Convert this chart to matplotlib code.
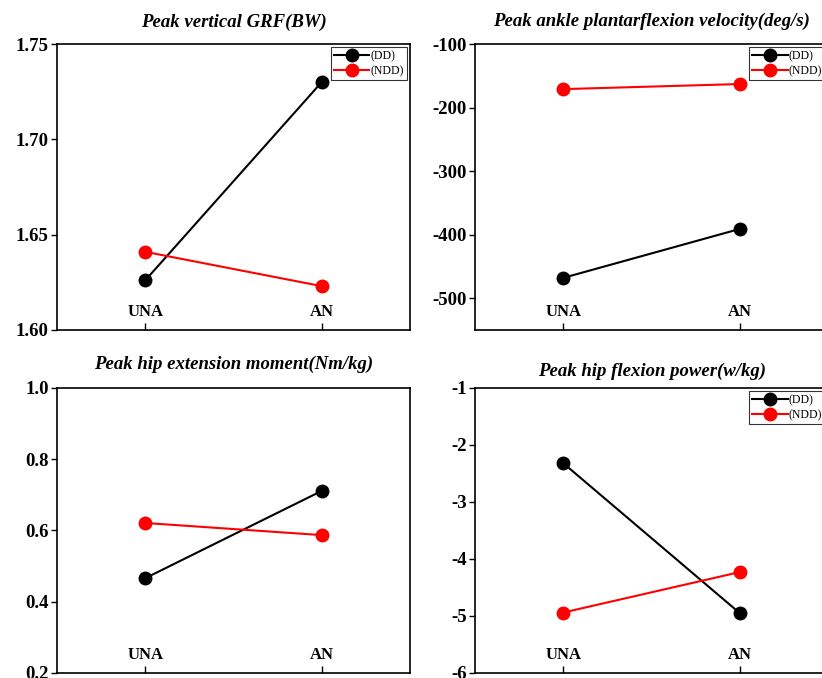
import matplotlib
matplotlib.use('Agg')
import matplotlib.pyplot as plt
import matplotlib.transforms as mtransforms

plt.rcParams['font.family'] = ['Liberation Serif', 'DejaVu Serif']
plt.rcParams['font.weight'] = 'bold'

# conditions on the x axis
conditions = ['UNA', 'AN']

# one entry per panel
titles = ['Peak vertical GRF(BW)',
          'Peak ankle plantarflexion velocity(deg/s)',
          'Peak hip extension moment(Nm/kg)',
          'Peak hip flexion power(w/kg)']

grf_dd = [1.626, 1.730]
grf_ndd = [1.641, 1.623]

ankle_dd = [-468, -391]
ankle_ndd = [-171, -163]

moment_dd = [0.466, 0.711]
moment_ndd = [0.621, 0.587]

power_dd = [-2.32, -4.95]
power_ndd = [-4.94, -4.23]

dd_series = [grf_dd, ankle_dd, moment_dd, power_dd]
ndd_series = [grf_ndd, ankle_ndd, moment_ndd, power_ndd]

ylims = [(1.60, 1.75), (-550, -100), (0.2, 1.0), (-6, -1)]
yticks = [[1.60, 1.65, 1.70, 1.75],
          [-500, -400, -300, -200, -100],
          [0.2, 0.4, 0.6, 0.8, 1.0],
          [-6, -5, -4, -3, -2, -1]]
yfmt = ['%.2f', '%d', '%.1f', '%d']

fig = plt.figure(figsize=(8.22, 6.78), dpi=100)

# axes boxes in figure coords (right column runs off the page like the original)
boxes = [[0.0693, 0.5133, 0.4294, 0.4218],
         [0.5779, 0.5133, 0.4294, 0.4218],
         [0.0693, 0.0074, 0.4294, 0.4204],
         [0.5779, 0.0074, 0.4294, 0.4204]]
title_pads = [12, 13, 14, 9]
show_legend = [True, True, False, True]

xpos = [1, 2]

for i in range(4):
    ax = fig.add_axes(boxes[i])
    ax.plot(xpos, dd_series[i], color='black', lw=1.5, marker='o', ms=9,
            label='(DD)', clip_on=False)
    ax.plot(xpos, ndd_series[i], color='red', lw=1.5, marker='o', ms=9,
            label='(NDD)', clip_on=False)
    ax.set_xlim(0.5, 2.5)
    ax.set_ylim(*ylims[i])
    ax.set_yticks(yticks[i])
    ax.set_yticklabels([yfmt[i] % v for v in yticks[i]], fontsize=13.5, fontweight='bold')
    ax.set_xticks(xpos)
    ax.set_xticklabels([])
    ax.tick_params(axis='x', direction='in', length=5, width=1)
    ax.tick_params(axis='y', direction='out', length=4, width=1, pad=2)
    for s in ax.spines.values():
        s.set_linewidth(1.2)

    # condition names sit inside the plot just above the bottom spine
    trans = mtransforms.blended_transform_factory(ax.transData, ax.transAxes)
    for x, name in zip(xpos, conditions):
        ax.text(x, 0.035, name, transform=trans, ha='center', va='bottom',
                fontsize=12, fontweight='bold')

    ax.set_title(titles[i], fontsize=13.5, fontweight='bold', style='italic',
                 pad=title_pads[i])

    if show_legend[i]:
        leg = ax.legend(loc='upper right', fontsize=8.5, frameon=True,
                        fancybox=False, edgecolor='black', borderpad=0.25,
                        labelspacing=0.3, handletextpad=0.1, handlelength=3,
                        borderaxespad=0.25)
        leg.get_frame().set_linewidth(0.8)
        for t in leg.get_texts():
            t.set_fontweight('normal')

fig.savefig('out.png', dpi=100)
